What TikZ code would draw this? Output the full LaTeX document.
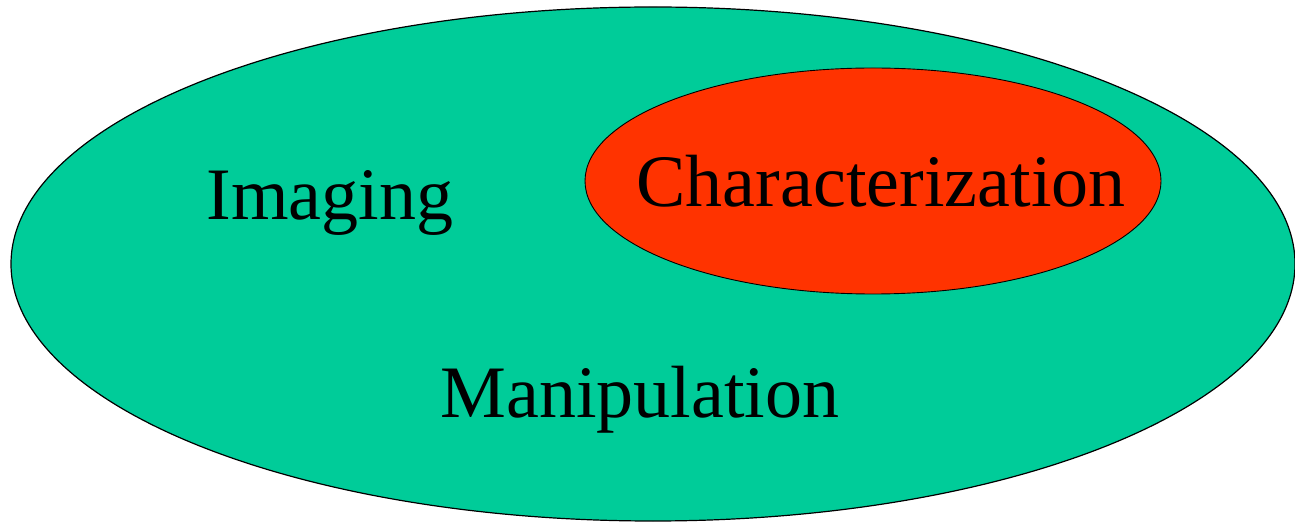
\documentclass[tikz,border=0pt]{standalone}
\usepackage{fontspec}
\setmainfont{Liberation Serif}
\definecolor{bggreen}{HTML}{00CC99}
\definecolor{bgred}{HTML}{FF3300}
\begin{document}
\begin{tikzpicture}[x=1pt,y=1pt,
  lbl/.style={anchor=base,inner sep=0pt,font=\fontsize{74}{80}\selectfont}]
\useasboundingbox (0,0) rectangle (1295,522);
\begin{scope}
\clip (0,0) rectangle (1295,522);
\draw[fill=bggreen,line width=1.2pt] (653,258) ellipse [x radius=642, y radius=257];
\draw[fill=bgred,line width=0.9pt] (873,341) ellipse [x radius=288, y radius=113];
\end{scope}
\node[lbl] (img) at (330,302) {Imaging};
\node[lbl] (char) at (881,315) {Characterization};
\node[lbl] (man) at (640,104) {Manipulation};
\end{tikzpicture}
\end{document}
